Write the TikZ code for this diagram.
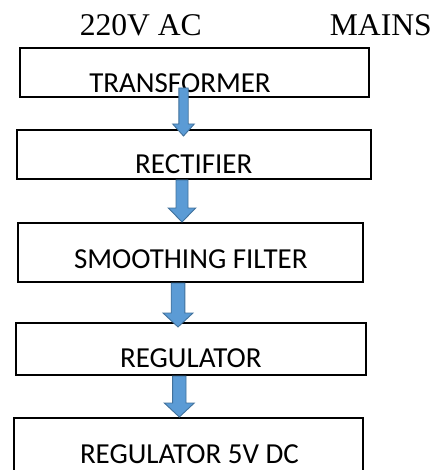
\documentclass[tikz,border=0pt]{standalone}
\usepackage{fontspec}
\setmainfont{Liberation Serif}
\newfontfamily\boxfont{Carlito}
\usetikzlibrary{calc}

\definecolor{arrowfill}{HTML}{5B9BD5}
\definecolor{arrowline}{HTML}{41719C}

% block arrow: start, tip, shaft half width, head half width, head length
\newcommand{\flowarrow}[5]{%
	\draw[ flow ] ($(#1)+(-#3,0)$) -- ($(#1)+(#3,0)$) -- ($(#2)+(#3,#5)$) -- ($(#2)+(#4,#5)$)
		-- (#2) -- ($(#2)+(-#4,#5)$) -- ($(#2)+(-#3,#5)$) -- cycle;
}

\tikzset{
	block/.style={ draw=black, line width=2pt, inner sep=0pt },
	blocktext/.style={ anchor=base, inner sep=0pt, font=\boxfont\fontsize{29}{34}\selectfont },
	title/.style={ anchor=base, inner sep=0pt, font=\fontsize{31.6}{36}\selectfont },
	flow/.style={ fill=arrowfill, draw=arrowline, line width=0.9pt, line join=miter }
}

\begin{document}
\begin{tikzpicture}[ x=1pt, y=1pt ]

	\useasboundingbox (0, 0) rectangle (438, -470);
	\clip (0, 0) rectangle (438, -470);

	\node[ title ] (ac) at (140.8, -36) {220V AC};
	\node[ title ] (mains) at (380.8, -36) {MAINS};

	\node[ block, minimum width=349, minimum height=49 ] (transformer) at (194.5, -72.5) {};
	\node[ block, minimum width=354, minimum height=49 ] (rectifier) at (194, -154.5) {};
	\node[ block, minimum width=345, minimum height=59 ] (filter) at (190.5, -252.5) {};
	\node[ block, minimum width=350, minimum height=52 ] (regulator) at (191, -349) {};
	\node[ block, minimum width=349.3, minimum height=72 ] (output) at (188.65, -454) {};

	\node[ blocktext ] (transformertext) at (180, -92.7) {TRANSFORMER};
	\node[ blocktext ] (rectifiertext) at (193.8, -174) {RECTIFIER};
	\node[ blocktext ] (filtertext) at (190.8, -268.3) {SMOOTHING FILTER};
	\node[ blocktext ] (regulatortext) at (190.8, -367.7) {REGULATOR};
	\node[ blocktext ] (outputtext) at (189.5, -463) {REGULATOR 5V DC};

	\coordinate (s1) at (183.5, -88);
	\coordinate (t1) at (183.5, -136);
	\coordinate (s2) at (182,0 |- rectifier.south);
	\coordinate (t2) at (182, -222);
	\coordinate (s3) at (178,0 |- filter.south);
	\coordinate (t3) at (178, -327);
	\coordinate (s4) at (179.3,0 |- regulator.south);
	\coordinate (t4) at (179.3, -417);

	\flowarrow{s1}{t1}{4.7}{10.8}{12}
	\flowarrow{s2}{t2}{6}{13.7}{14}
	\flowarrow{s3}{t3}{6.8}{15}{14}
	\flowarrow{s4}{t4}{6.7}{15}{14}

\end{tikzpicture}
\end{document}
